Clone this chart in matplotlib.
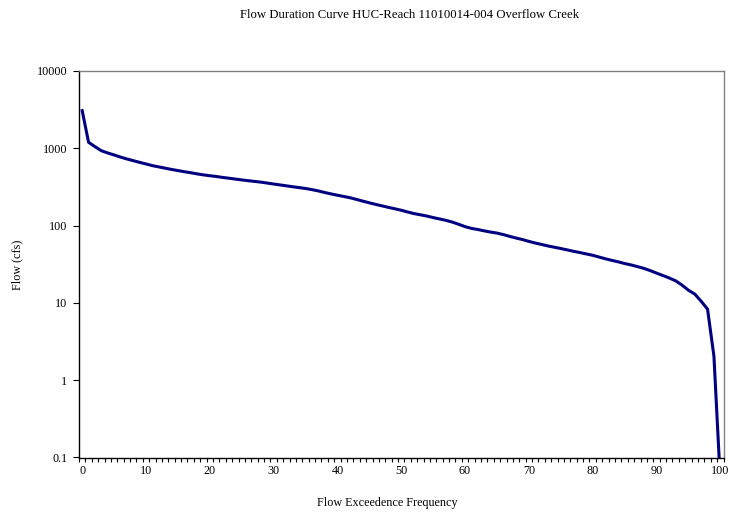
import matplotlib
matplotlib.use("Agg")
import matplotlib.pyplot as plt
from matplotlib.ticker import FixedLocator, NullFormatter, FixedFormatter
import numpy as np

plt.rcParams['font.family'] = ['Liberation Serif', 'DejaVu Serif']

# Exceedence percent categories 0..100
exceedence = list(range(0, 101))
flow_cfs = [
    3070, 1195, 1050, 931, 870, 820, 770, 728, 692, 658,
    627, 597, 575, 553, 533, 515, 498, 483, 467, 453,
    442, 432, 420, 410, 400, 390, 381, 373, 365, 355,
    345, 336, 327, 318, 310, 302, 292, 281, 268, 257,
    247, 238, 229, 218, 207, 197, 188, 180, 172, 165,
    158, 150, 143, 138, 133, 127, 122, 117, 111, 104,
    97, 92, 89, 85.5, 82.5, 80, 76.5, 72.5, 69, 66,
    62.5, 59.5, 57, 54.5, 52.5, 50.5, 48.5, 46.5, 44.8, 43,
    41.3, 39.2, 37.2, 35.5, 34, 32.3, 31, 29.5, 28, 26.2,
    24.3, 22.6, 21, 19.3, 17, 14.6, 13, 10.5, 8.3, 2.05,
    0.05,
]
y_ticks = [0.1, 1, 10, 100, 1000, 10000]
y_tick_labels = ["0.1", "1", "10", "100", "1000", "10000"]
x_ticks = list(range(0, 101, 10))
x_tick_labels = [str(v) for v in x_ticks]

title = "Flow Duration Curve HUC-Reach 11010014-004 Overflow Creek"
xlabel = "Flow Exceedence Frequency"
ylabel = "Flow (cfs)"

W, H = 732, 514
fig = plt.figure(figsize=(W / 100, H / 100), dpi=100)
L, R, T, B = 79, 723.5, 71, 457.5
ax = fig.add_axes([L / W, 1 - B / H, (R - L) / W, (B - T) / H])

ax.plot(exceedence, flow_cfs, color="#000080", linewidth=2.2, solid_joinstyle="round")

ax.set_yscale("log")
ax.set_ylim(0.1, 10000)
ax.set_xlim(-0.5, 100.5)

ax.yaxis.set_major_locator(FixedLocator(y_ticks))
ax.yaxis.set_major_formatter(FixedFormatter(y_tick_labels))
ax.yaxis.set_minor_locator(FixedLocator([]))
ax.yaxis.set_minor_formatter(NullFormatter())

ax.xaxis.set_major_locator(FixedLocator(x_ticks))
ax.xaxis.set_major_formatter(FixedFormatter(x_tick_labels))
ax.xaxis.set_minor_locator(FixedLocator(np.arange(-0.5, 101, 1.0)))

ax.tick_params(axis="y", which="major", direction="out", length=4.3, width=0.8,
               labelsize=8.7, pad=4, colors="black")
ax.tick_params(axis="x", which="major", length=0, labelsize=8.7, pad=5.5)
ax.tick_params(axis="x", which="minor", direction="out", length=3, width=0.8)
ax.tick_params(axis="y", which="minor", length=0)

for s in ("left", "bottom"):
    ax.spines[s].set_color("black")
    ax.spines[s].set_linewidth(1.0)
for s in ("top", "right"):
    ax.spines[s].set_color("#808080")
    ax.spines[s].set_linewidth(1.0)

fig.text(410 / W, 1 - 15 / H, title, ha="center", va="center", fontsize=9.2)
fig.text(387 / W, 1 - 503 / H, xlabel, ha="center", va="center", fontsize=8.7)
fig.text(17 / W, 1 - 265 / H, ylabel, ha="center", va="center", rotation=90, fontsize=8.7)

fig.savefig("out.png", dpi=100)
